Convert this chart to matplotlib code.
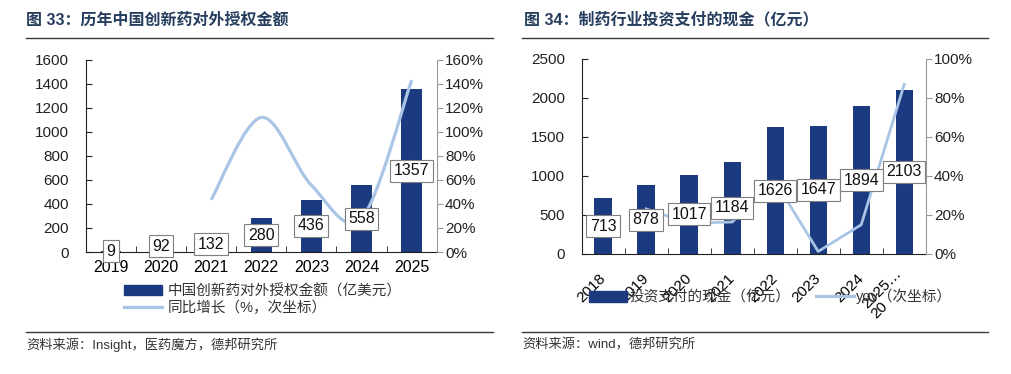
import numpy as np
import matplotlib
matplotlib.use('Agg')
import matplotlib.pyplot as plt
from matplotlib.path import Path
from matplotlib.patches import PathPatch, Patch
from matplotlib.lines import Line2D

plt.rcParams['font.family'] = ['Liberation Sans', 'Noto Sans CJK SC', 'DejaVu Sans']
plt.rcParams['axes.unicode_minus'] = False

# ---- data: left chart (图33) ----
years_l = ['2019', '2020', '2021', '2022', '2023', '2024', '2025']
license_amt = [9, 92, 132, 280, 436, 558, 1357]          # 亿美元
license_yoy = [None, None, 43.5, 112.1, 55.7, 28.0, 143.2]  # %

# ---- data: right chart (图34) ----
years_r = ['2018', '2019', '2020', '2021', '2022', '2023', '2024', '2025…\n20']
invest_cash = [713, 878, 1017, 1184, 1626, 1647, 1894, 2103]   # 亿元
invest_yoy = [None, 23.1, 15.8, 16.4, 37.3, 1.3, 15.0, 87.0]     # %

BAR_C = '#1b3a80'
LINE_C = '#a9c5e6'
TITLE_C = '#263d5e'
TXT_C = '#333333'

fig = plt.figure(figsize=(10.11, 3.74), dpi=100)


def smooth_path(xs, ys):
    # Excel 风格平滑线（三次贝塞尔）
    verts = [(xs[0], ys[0])]
    codes = [Path.MOVETO]
    n = len(xs)
    for i in range(n - 1):
        a = i - 1 if i > 0 else i
        d = i + 2 if i + 2 < n else i + 1
        c1 = (xs[i] + (xs[i + 1] - xs[a]) / 6, ys[i] + (ys[i + 1] - ys[a]) / 6)
        c2 = (xs[i + 1] - (xs[d] - xs[i]) / 6, ys[i + 1] - (ys[d] - ys[i]) / 6)
        verts += [c1, c2, (xs[i + 1], ys[i + 1])]
        codes += [Path.CURVE4] * 3
    return Path(verts, codes)


def style_axes(ax, ax2, n):
    ax.set_xlim(-0.5, n - 0.5)
    ax.spines['top'].set_visible(False)
    ax.spines['right'].set_visible(False)
    ax2.spines['top'].set_visible(False)
    ax2.spines['left'].set_visible(False)
    ax2.spines['bottom'].set_visible(False)
    ax2.spines['right'].set_color('#999999')
    ax.spines['left'].set_color('#222222')
    ax.spines['bottom'].set_color('#222222')
    ax.tick_params(axis='y', direction='in', length=4, labelsize=11, colors='#222222', pad=12)
    ax2.tick_params(axis='y', direction='out', length=4, labelsize=11, colors='#222222', pad=2)
    ax2.tick_params(axis='y', color='#999999')
    ax.set_xticks(np.arange(0.5, n - 0.5), minor=True)
    ax.tick_params(axis='x', which='minor', direction='in', length=4, color='#222222')
    ax.tick_params(axis='x', which='major', length=0)


# =================== 图33 ===================
ax1 = fig.add_axes([0.0848, 0.3262, 0.3472, 0.5134])
ax2 = ax1.twinx()
x_l = np.arange(len(years_l))
ax1.bar(x_l, license_amt, width=0.41, color=BAR_C, zorder=2)
ax1.set_ylim(0, 1600)
ax1.set_yticks(range(0, 1601, 200))
ax1.set_xticks(x_l)
ax1.set_xticklabels(years_l, fontsize=11.5)
ax1.tick_params(axis='x', which='major', pad=6)
ax2.set_ylim(0, 160)
ax2.set_yticks(range(0, 161, 20))
ax2.set_yticklabels([f'{v}%' for v in range(0, 161, 20)])
style_axes(ax1, ax2, len(years_l))

xs = [x for x, v in zip(x_l, license_yoy) if v is not None]
ys = [v for v in license_yoy if v is not None]
ax2.add_patch(PathPatch(smooth_path(xs, ys), fill=False, edgecolor=LINE_C, lw=2.3, zorder=3))

for x, v in zip(x_l, license_amt):
    ax2.text(x, v / 2, str(v), transform=ax1.transData, ha='center', va='center',
             fontsize=11.5, color='#111111', zorder=5,
             bbox=dict(boxstyle='square,pad=0.22', fc='white', ec='#7f7f7f', lw=0.8))

leg1 = ax2.legend([Patch(color=BAR_C), Line2D([], [], color=LINE_C, lw=2.3)],
                  ['中国创新药对外授权金额（亿美元）', '同比增长（%，次坐标）'],
                  loc='upper left', bbox_to_anchor=(124 / 1011, 1 - 284 / 374),
                  bbox_transform=fig.transFigure, frameon=False, fontsize=10.5,
                  handlelength=2.6, handleheight=0.72, handletextpad=0.4,
                  labelspacing=0.15, borderpad=0, borderaxespad=0)
for t in leg1.get_texts():
    t.set_color(TXT_C)

# =================== 图34 ===================
ax3 = fig.add_axes([0.5752, 0.3209, 0.3405, 0.5214])
ax4 = ax3.twinx()
x_r = np.arange(len(years_r))
ax3.bar(x_r, invest_cash, width=0.40, color=BAR_C, zorder=2)
ax3.set_ylim(0, 2500)
ax3.set_yticks(range(0, 2501, 500))
ax3.set_xticks(x_r)
ax3.set_xticklabels(years_r, fontsize=11, rotation=45, ha='right', va='center',
                    rotation_mode='anchor', multialignment='left', linespacing=0.9)
ax3.tick_params(axis='x', which='major', pad=16)
ax4.set_ylim(0, 100)
ax4.set_yticks(range(0, 101, 20))
ax4.set_yticklabels([f'{v}%' for v in range(0, 101, 20)])
style_axes(ax3, ax4, len(years_r))

xs = [x for x, v in zip(x_r, invest_yoy) if v is not None]
ys = [v for v in invest_yoy if v is not None]
ax4.plot(xs, ys, color=LINE_C, lw=2.0, zorder=3)

for x, v in zip(x_r, invest_cash):
    ax4.text(x, v / 2, str(v), transform=ax3.transData, ha='center', va='center',
             fontsize=11.5, color='#111111', zorder=5,
             bbox=dict(boxstyle='square,pad=0.22', fc='white', ec='#7f7f7f', lw=0.8))

leg2 = ax4.legend([Patch(color=BAR_C), Line2D([], [], color=LINE_C, lw=2.3)],
                  ['投资支付的现金（亿元）', 'yoy（次坐标）'],
                  loc='upper left', bbox_to_anchor=(589 / 1011, 1 - 289 / 374),
                  bbox_transform=fig.transFigure, frameon=False, fontsize=10.5, ncol=2,
                  handlelength=2.6, handleheight=0.72, handletextpad=0.15,
                  columnspacing=1.8, borderpad=0, borderaxespad=0)
for t in leg2.get_texts():
    t.set_color(TXT_C)

# ---- titles, separators, sources ----
fig.text(26 / 1011, 1 - 20 / 374, '图 33：历年中国创新药对外授权金额', fontsize=11.5,
         fontweight='bold', color=TITLE_C, va='center', ha='left')
fig.text(524 / 1011, 1 - 20 / 374, '图 34：制药行业投资支付的现金（亿元）', fontsize=11.5,
         fontweight='bold', color=TITLE_C, va='center', ha='left')
for x0, x1 in [(26, 493), (522, 988)]:
    for yy in [37.5, 331.5]:
        fig.add_artist(Line2D([x0 / 1011, x1 / 1011], [1 - yy / 374, 1 - yy / 374],
                              color='#3a3a3a', lw=1.0))
fig.text(26 / 1011, 1 - 345 / 374, '资料来源：Insight，医药魔方，德邦研究所', fontsize=9.5,
         color=TXT_C, va='center', ha='left')
fig.text(522 / 1011, 1 - 345 / 374, '资料来源：wind，德邦研究所', fontsize=9.5,
         color=TXT_C, va='center', ha='left')

fig.savefig('out.png', dpi=100, facecolor='white')
